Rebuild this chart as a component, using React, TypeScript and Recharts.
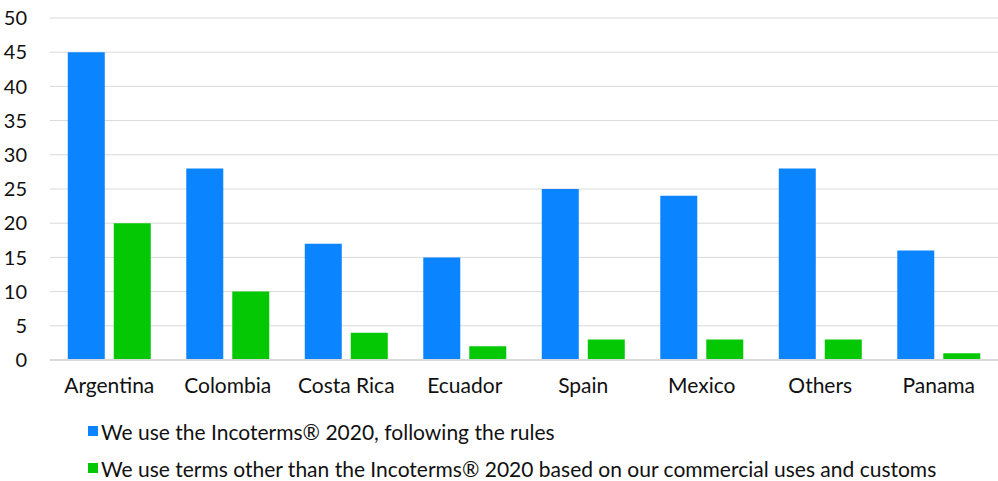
import { Bar, BarChart, CartesianGrid, Legend, XAxis, YAxis } from 'recharts';

const countries = ['Argentina', 'Colombia', 'Costa Rica', 'Ecuador', 'Spain', 'Mexico', 'Others', 'Panama'];
const incoterms = [45, 28, 17, 15, 25, 24, 28, 16];
const otherTerms = [20, 10, 4, 2, 3, 3, 3, 1];
const yTicks = [0, 5, 10, 15, 20, 25, 30, 35, 40, 45, 50];

const series = [
  { key: 'incoterms', name: 'We use the Incoterms® 2020, following the rules', color: '#0A84FF' },
  { key: 'other', name: 'We use terms other than the Incoterms® 2020 based on our commercial uses and customs', color: '#05C805' },
];

const data = countries.map((c, i) => ({ country: c, incoterms: incoterms[i], other: otherTerms[i] }));

const font = 'Lato, sans-serif';

function LegendBox() {
  return (
    <div style={{ fontFamily: font, fontSize: 21, color: '#111', paddingLeft: 88, paddingTop: 37, height: 63 }}>
      {series.map((s, i) => (
        <div
          key={s.key}
          style={{ display: 'flex', alignItems: 'center', height: 26, marginTop: i === 0 ? 0 : 11 }}
        >
          <span style={{ width: 10, height: 10, background: s.color, marginRight: 3, display: 'inline-block' }} />
          <span>{s.name}</span>
        </div>
      ))}
    </div>
  );
}

export default function App() {
  return (
    <div style={{ position: 'absolute', left: 0, top: 0, background: '#fff' }}>
      <BarChart
        width={998}
        height={481}
        data={data}
        margin={{ top: 18, right: 0, left: 0, bottom: 0 }}
        barCategoryGap='15%'
        barGap={9}
      >
        <CartesianGrid vertical={false} stroke='#d9d9d9' />
        <XAxis
          dataKey='country'
          height={21}
          tickLine={false}
          tickMargin={12}
          stroke='#d9d9d9'
          strokeWidth={2}
          tick={{ fill: '#111', fontSize: 21, fontFamily: font }}
          interval={0}
        />
        <YAxis
          width={50}
          domain={[0, 50]}
          ticks={yTicks}
          axisLine={false}
          tickLine={false}
          tickMargin={17}
          tick={{ fill: '#111', fontSize: 20, fontFamily: font }}
        />
        <Legend verticalAlign='bottom' align='left' height={100} content={() => <LegendBox />} />
        {series.map(s => (
          <Bar key={s.key} dataKey={s.key} name={s.name} fill={s.color} isAnimationActive={false} />
        ))}
      </BarChart>
    </div>
  );
}
